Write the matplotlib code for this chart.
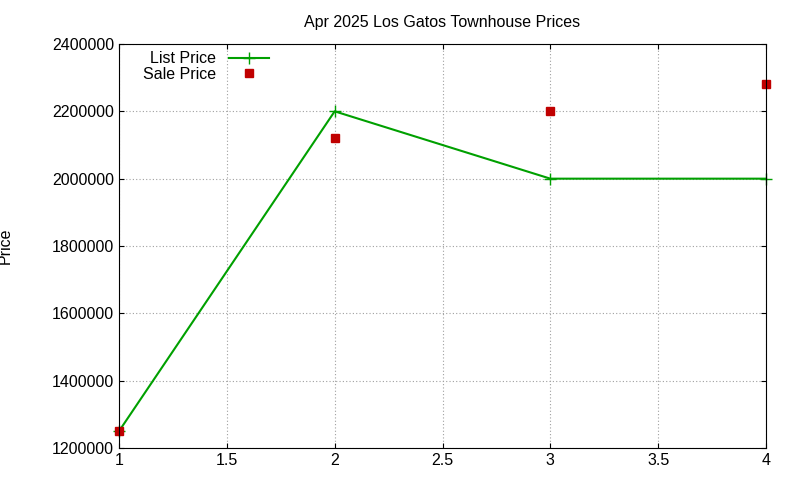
import matplotlib
matplotlib.use("Agg")
import matplotlib.pyplot as plt

plt.rcParams["font.family"] = ["Liberation Sans", "DejaVu Sans"]

x = [1, 2, 3, 4]
list_price = [1250000, 2200000, 2000000, 2000000]
sale_price = [1250000, 2120000, 2200000, 2280000]

fig = plt.figure(figsize=(8, 4.8), dpi=100)
ax = fig.add_axes([119 / 800, 1 - 448 / 480, (766 - 119) / 800, (448 - 44) / 480])

ax.plot(x, list_price, color="#00a000", marker="+", markersize=8, linewidth=1.5, label="List Price", clip_on=False)
ax.plot(x, sale_price, color="#c00000", marker="s", markersize=6, linestyle="none", label="Sale Price", clip_on=False)

ax.set_xlim(1, 4)
ax.set_ylim(1200000, 2400000)
ax.set_xticks([1, 1.5, 2, 2.5, 3, 3.5, 4])
ax.set_xticklabels(["1", "1.5", "2", "2.5", "3", "3.5", "4"])
ax.set_yticks(range(1200000, 2400001, 200000))
ax.ticklabel_format(axis="y", style="plain", useOffset=False)
ax.grid(True, color="#a0a0a0", linestyle=(0, (1, 2)), linewidth=0.8)
ax.tick_params(direction="in", labelsize=11.5, top=True, right=True)
for s in ax.spines.values():
    s.set_linewidth(0.8)

ax.set_title("Apr 2025 Los Gatos Townhouse Prices", fontsize=11.5, pad=12)
ax.set_ylabel("Price", fontsize=11.5, labelpad=28)

ax.legend(loc="upper left", bbox_to_anchor=(0.02, 1.01), frameon=False, markerfirst=False,
          fontsize=11.5, handlelength=2.5, borderpad=0.2, labelspacing=0.05)

fig.savefig("out.png", dpi=100)
